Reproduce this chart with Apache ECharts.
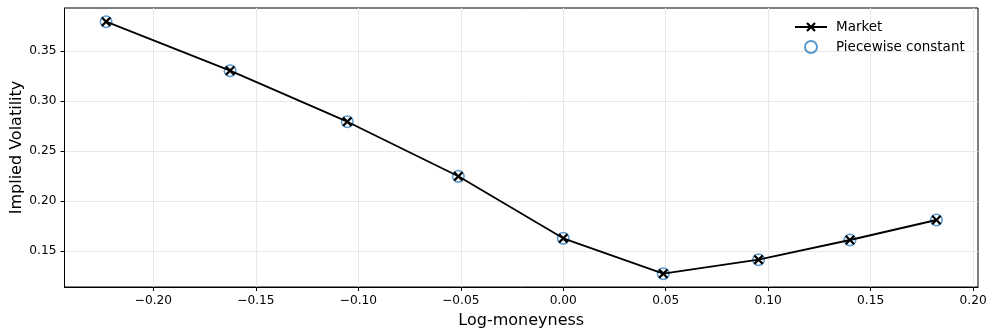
<!DOCTYPE html>
<html>
<head>
<meta charset="utf-8">
<script src="https://cdn.jsdelivr.net/npm/echarts@6/dist/echarts.min.js"></script>
<style>
  html, body { margin: 0; padding: 0; background: #fff; }
  #chart { width: 996px; height: 336px; }
</style>
</head>
<body>
<div id="chart"></div>
<script>
// log-moneyness and implied vols
const logMoneyness = [-0.2231, -0.1626, -0.1054, -0.0512, 0.0, 0.0488, 0.0953, 0.1399, 0.1821];
const marketVol = [0.3796, 0.3306, 0.2796, 0.2250, 0.1630, 0.1276, 0.1416, 0.1613, 0.1813];
const piecewiseVol = [0.3796, 0.3306, 0.2796, 0.2250, 0.1630, 0.1276, 0.1416, 0.1613, 0.1813];
const xTicks = [-0.20, -0.15, -0.10, -0.05, 0.00, 0.05, 0.10, 0.15, 0.20];
const yTicks = [0.15, 0.20, 0.25, 0.30, 0.35];

const font = 'DejaVu Sans';
const gridColor = '#e8e8e8';
// X shaped marker (filled polygon)
const crossPath = 'path://M0,1.6L1.6,0L5,3.4L8.4,0L10,1.6L6.6,5L10,8.4L8.4,10L5,6.6L1.6,10L0,8.4L3.4,5Z';

const fmt = v => (v < 0 ? '\u2212' + Math.abs(v).toFixed(2) : v.toFixed(2));

const chart = echarts.init(document.getElementById('chart'), null, { renderer: 'canvas' });

chart.setOption({
  animation: false,
  grid: {
    left: 64.5, right: 18, top: 8, bottom: 49,
    containLabel: false,
    outerBoundsMode: 'none',
    show: true, borderColor: '#000', borderWidth: 1
  },
  legend: {
    orient: 'vertical',
    left: 794, top: 20, padding: 0,
    itemWidth: 32, itemHeight: 12, itemGap: 6,
    textStyle: { fontFamily: font, fontSize: 13.5, color: '#000', padding: [0, 0, 0, 4] },
    data: [
      { name: 'Market' },
      { name: 'Piecewise constant', icon: 'circle' }
    ]
  },
  xAxis: {
    type: 'value',
    min: -0.2434, max: 0.2024,
    name: 'Log-moneyness',
    nameLocation: 'middle',
    nameMoveOverlap: false,
    nameGap: 26,
    nameTextStyle: { fontFamily: font, fontSize: 16, color: '#000' },
    axisLine: { show: true, onZero: false, lineStyle: { color: '#000', width: 1 } },
    axisTick: { show: true, inside: false, length: 4, lineStyle: { color: '#000' }, customValues: xTicks },
    axisLabel: {
      fontFamily: font, fontSize: 12.2, color: '#000', margin: 8,
      customValues: xTicks, formatter: fmt
    },
    splitLine: { show: true, lineStyle: { color: gridColor, width: 1 } }
  },
  yAxis: {
    type: 'value',
    min: 0.1143, max: 0.3933,
    name: 'Implied Volatility',
    nameLocation: 'middle',
    nameMoveOverlap: false,
    nameGap: 40,
    nameTextStyle: { fontFamily: font, fontSize: 16, color: '#000' },
    axisLine: { show: true, onZero: false, lineStyle: { color: '#000', width: 1 } },
    axisTick: { show: true, inside: false, length: 4, lineStyle: { color: '#000' }, customValues: yTicks },
    axisLabel: {
      fontFamily: font, fontSize: 12.2, color: '#000', margin: 8,
      customValues: yTicks, formatter: v => v.toFixed(2)
    },
    splitLine: { show: true, lineStyle: { color: gridColor, width: 1 } }
  },
  series: [
    {
      name: 'Market',
      type: 'line',
      z: 3,
      data: logMoneyness.map((x, i) => [x, marketVol[i]]),
      symbol: crossPath,
      symbolSize: 10,
      showAllSymbol: true,
      lineStyle: { color: '#000', width: 1.8 },
      itemStyle: { color: '#000' }
    },
    {
      name: 'Piecewise constant',
      type: 'scatter',
      z: 2,
      data: logMoneyness.map((x, i) => [x, piecewiseVol[i]]),
      symbol: 'circle',
      symbolSize: 11.5,
      itemStyle: { color: 'rgba(0,0,0,0)', borderColor: '#2f7fc1', borderWidth: 1.5 }
    }
  ]
});
</script>
</body>
</html>
